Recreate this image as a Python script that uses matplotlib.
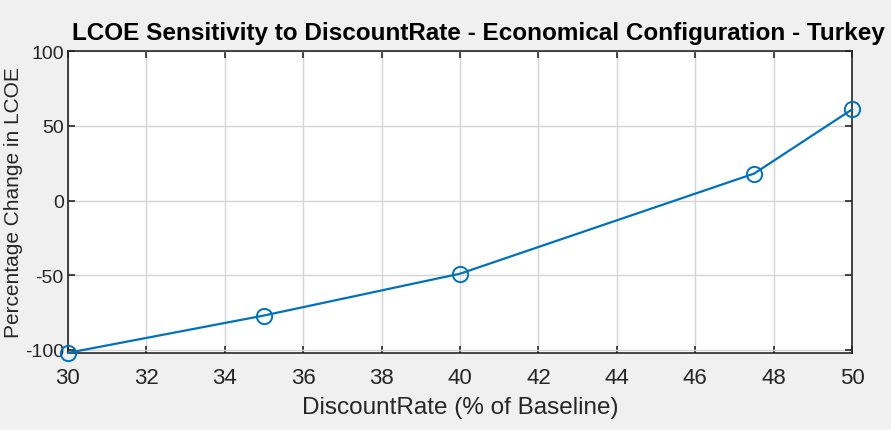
import matplotlib
matplotlib.use("Agg")
import matplotlib.pyplot as plt

# discount rate (% of baseline) vs percentage change in LCOE
rate = [30, 35, 40, 47.5, 50]
lcoe_change = [-102, -77, -49, 18, 61]
xticks = list(range(30, 52, 2))
yticks = [-100, -50, 0, 50, 100]

plt.rcParams.update({"font.family": ["Liberation Sans", "DejaVu Sans"],
                     "axes.unicode_minus": False})

fig = plt.figure(figsize=(8.91, 4.31), dpi=100, facecolor="#f0f0f0")
ax = fig.add_axes([0.0763, 0.179, 0.880, 0.700])
ax.set_facecolor("white")

ax.plot(rate, lcoe_change, "-o", color="#0072BD", lw=1.6, ms=11,
        mfc="none", mec="#0072BD", mew=1.4, clip_on=False, zorder=3)

ax.set_xlim(30, 50)
ax.set_ylim(-102, 100)
ax.set_xticks(xticks)
ax.set_yticks(yticks)
ax.grid(True, color="#d4d4d4", lw=1.0)
ax.set_axisbelow(True)
ax.tick_params(direction="in", top=True, right=True, length=5, width=1.2,
               colors="#262626")
ax.tick_params(axis="x", labelsize=16, pad=10)
ax.tick_params(axis="y", labelsize=14, pad=3)
for s in ax.spines.values():
    s.set_color("#262626")
    s.set_linewidth(1.2)

ax.set_xlabel("DiscountRate (% of Baseline)", fontsize=17.5, color="#262626", labelpad=6)
ax.set_ylabel("Percentage Change in LCOE", fontsize=15, color="#262626", labelpad=1)
fig.text(0.537, 0.895, "LCOE Sensitivity to DiscountRate - Economical Configuration - Turkey",
         fontsize=17.5, fontweight="bold", ha="center", va="bottom")

fig.savefig("out.png", facecolor=fig.get_facecolor())
